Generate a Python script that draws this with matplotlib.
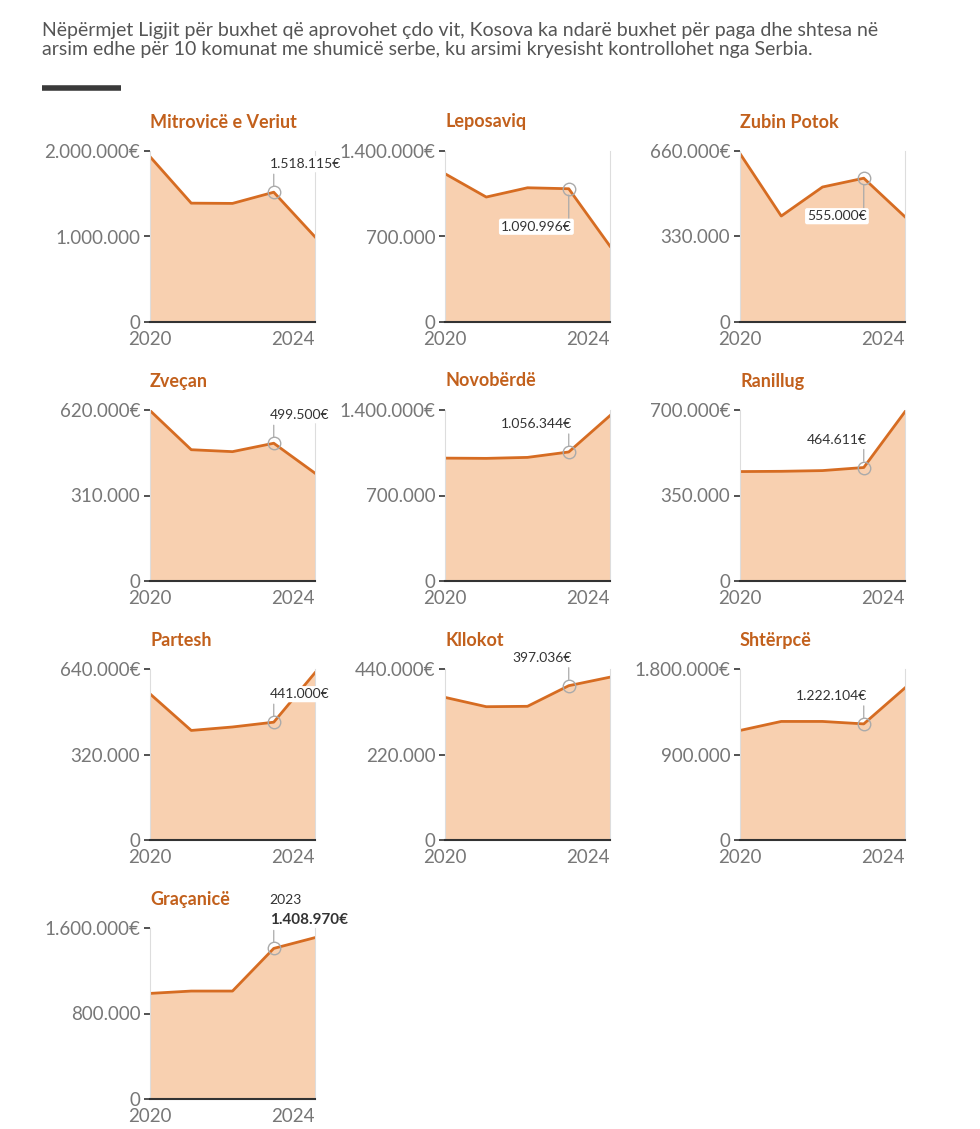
import matplotlib.pyplot as plt

plt.rcParams['font.family'] = ['Lato', 'DejaVu Sans']

# --- te dhenat ---
years = [2020, 2021, 2022, 2023, 2024]
komunat = ['Mitrovicë e Veriut', 'Leposaviq', 'Zubin Potok', 'Zveçan', 'Novobërdë',
           'Ranillug', 'Partesh', 'Kllokot', 'Shtërpcë', 'Graçanicë']

mitrovice = [1934000, 1390000, 1387000, 1518115, 996000]
leposaviq = [1214000, 1023000, 1099000, 1090996, 621000]
zubin_potok = [650000, 409000, 521000, 555000, 406000]
zvecan = [618000, 476000, 469000, 499500, 391000]
novoberde = [1006000, 1004000, 1012000, 1056344, 1354000]
ranillug = [448000, 449000, 452000, 464611, 693000]
partesh = [547000, 410000, 423000, 441000, 626000]
kllokot = [367000, 343000, 344000, 397036, 419000]
shterpce = [1153000, 1248000, 1248000, 1222104, 1601000]
gracanice = [988000, 1010000, 1010000, 1408970, 1510000]

vlerat = [mitrovice, leposaviq, zubin_potok, zvecan, novoberde,
          ranillug, partesh, kllokot, shterpce, gracanice]
y_max = [2000000, 1400000, 660000, 620000, 1400000, 700000, 640000, 440000, 1800000, 1600000]

intro = ('Nëpërmjet Ligjit për buxhet që aprovohet çdo vit, Kosova ka ndarë buxhet për paga dhe shtesa në\n'
         'arsim edhe për 10 komunat me shumicë serbe, ku arsimi kryesisht kontrollohet nga Serbia.')

# --- stili ---
LINE = '#d66c22'
FILL = '#f8d0b0'
TITLE = '#c2601c'
GREY = '#777777'
TEXT = '#333333'

W, H = 980, 1129
fig = plt.figure(figsize=(W / 100, H / 100), dpi=100)
fig.patch.set_facecolor('white')


def fmt(v):
    return f'{int(v):,}'.replace(',', '.')


def px(v):
    # pixel -> points
    return v * 72 / 100


fig.text(42 / W, 1 - 40 / H, intro, fontsize=14, color='#555555', ha='left', va='center',
         linespacing=1.2)
fig.add_artist(plt.Line2D([42 / W, 121 / W], [1 - 88 / H, 1 - 88 / H], color='#3a3a3a', lw=4,
                          solid_capstyle='butt', transform=fig.transFigure))

col_x = [150, 445, 740]
row_top = [151, 410, 669, 928]
aw, ah = 165, 171

for i, (emri, vals, ym) in enumerate(zip(komunat, vlerat, y_max)):
    r, c = divmod(i, 3)
    ax = fig.add_axes([col_x[c] / W, 1 - (row_top[r] + ah) / H, aw / W, ah / H])
    ax.fill_between(years, vals, 0, color=FILL, lw=0)
    ax.plot(years, vals, color=LINE, lw=2, solid_joinstyle='round')
    ax.set_xlim(2020, 2024)
    ax.set_ylim(0, ym)

    ax.set_yticks([0, ym / 2, ym])
    ax.set_yticklabels(['0', fmt(ym / 2), fmt(ym) + '€'])
    ax.tick_params(axis='y', length=4, width=1.2, color='#333333', pad=3,
                   labelsize=13.5, labelcolor=GREY)
    ax.set_xticks([2020, 2024])
    xl = ax.set_xticklabels(['2020', '2024'])
    xl[0].set_ha('center')
    xl[1].set_ha('right')
    ax.tick_params(axis='x', length=0, pad=6.5, labelsize=13.5, labelcolor=GREY)

    ax.spines['top'].set_visible(False)
    ax.spines['bottom'].set_color('#333333')
    ax.spines['bottom'].set_linewidth(1.5)
    for s in ('left', 'right'):
        ax.spines[s].set_color('#dddddd')
        ax.spines[s].set_linewidth(0.8)
    ax.set_facecolor('none')

    ax.text(0, 1 + 29 / ah, emri, transform=ax.transAxes, ha='left', va='center',
            fontsize=13, fontweight='bold', color=TITLE)

    # pika e theksuar per 2023
    v23 = vals[3]
    ax.plot(2023, v23, 'o', mfc='none', mec='#aaaaaa', mew=1, ms=9, zorder=5)
    below = emri in ('Leposaviq', 'Zubin Potok')
    if c == 0:
        ha, dx = 'left', -4
    else:
        ha, dx = 'right', 3
    if below:
        ax.annotate('', xy=(2023, v23), xytext=(0, px(-30)), textcoords='offset points',
                    arrowprops=dict(arrowstyle='-', color='#aaaaaa', lw=0.9, shrinkA=0, shrinkB=4.5))
        ax.annotate(fmt(v23) + '€', xy=(2023, v23), xytext=(px(dx), px(-38)),
                    textcoords='offset points', ha=ha, va='center', fontsize=10, color=TEXT,
                    bbox=dict(fc='white', ec='none', boxstyle='round,pad=0.15'), zorder=6)
    else:
        ax.annotate('', xy=(2023, v23), xytext=(0, px(18)), textcoords='offset points',
                    arrowprops=dict(arrowstyle='-', color='#aaaaaa', lw=0.9, shrinkA=0, shrinkB=4.5))
        if emri == 'Graçanicë':
            ax.annotate('2023', xy=(2023, v23), xytext=(px(dx), px(48)),
                        textcoords='offset points', ha=ha, va='center', fontsize=10, color=TEXT,
                        annotation_clip=False)
            ax.annotate(fmt(v23) + '€', xy=(2023, v23), xytext=(px(dx), px(28)),
                        textcoords='offset points', ha=ha, va='center', fontsize=11,
                        fontweight='bold', color=TEXT, annotation_clip=False)
        else:
            ax.annotate(fmt(v23) + '€', xy=(2023, v23), xytext=(px(dx), px(28)),
                        textcoords='offset points', ha=ha, va='center', fontsize=10, color=TEXT,
                        bbox=dict(fc='white', ec='none', boxstyle='round,pad=0.15'), zorder=6,
                        annotation_clip=False)

fig.savefig('out.png', dpi=100, facecolor='white')
